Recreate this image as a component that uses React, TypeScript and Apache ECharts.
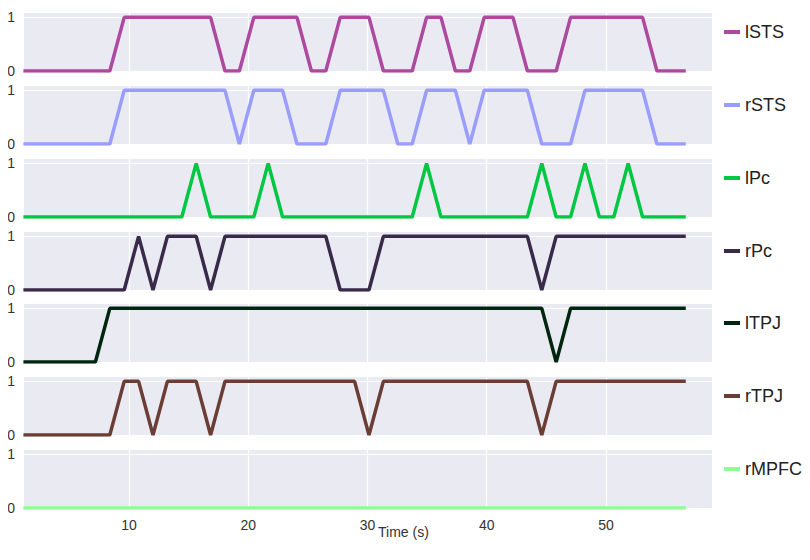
import React, { useEffect, useRef } from "react";
import * as echarts from "echarts";

const regionNames = ["lSTS", "rSTS", "lPc", "rPc", "lTPJ", "rTPJ", "rMPFC"];
const regionColors = ["#ad4aa0", "#9a9cff", "#00c843", "#3a2a4a", "#00260f", "#6b3e35", "#8cff94"];
const sampleStart = 1.145; // s, first sample
const sampleStep = 1.2075; // s, sampling interval
const nSamples = 47;
// indices of samples where each region is active (value 1); all others are 0
const lSTSOn = [7,8,9,10,11,12,13,16,17,18,19,22,23,24,28,29,32,33,34,38,39,40,41,42,43];
const rSTSOn = [7,8,9,10,11,12,13,14,16,17,18,22,23,24,25,28,29,30,32,33,34,35,39,40,41,42,43];
const lPcOn = [12,17,28,36,39,42];
const rPcOn = [8,10,11,12,14,15,16,17,18,19,20,21,25,26,27,28,29,30,31,32,33,34,35,37,38,39,40,41,42,43,44,45,46];
const lTPJOn = [6,7,8,9,10,11,12,13,14,15,16,17,18,19,20,21,22,23,24,25,26,27,28,29,30,31,32,33,34,35,36,38,39,40,41,42,43,44,45,46];
const rTPJOn = [7,8,10,11,12,14,15,16,17,18,19,20,21,22,23,25,26,27,28,29,30,31,32,33,34,35,37,38,39,40,41,42,43,44,45,46];
const rMPFCOn: number[] = [];
const activeSets = [lSTSOn, rSTSOn, lPcOn, rPcOn, lTPJOn, rTPJOn, rMPFCOn];
const xTicks = [10, 20, 30, 40, 50];
const xTitle = "Time (s)";
const FONT = "Liberation Sans";

export default function App() {
  const ref = useRef<HTMLDivElement>(null);
  useEffect(() => {
    const chart = echarts.init(ref.current!, undefined, { renderer: "svg" });
    const tops = [12, 85, 158, 231, 303, 376, 449];
    const h = 59;
    const grids: any[] = [], xAxes: any[] = [], yAxes: any[] = [], series: any[] = [], legends: any[] = [];
    regionNames.forEach((name, k) => {
      grids.push({ left: 24, right: 98, top: tops[k], height: h, show: true, backgroundColor: "#EAEAF2", borderWidth: 0 });
      const last = k === regionNames.length - 1;
      xAxes.push({
        type: "value", gridIndex: k, min: 1.195, max: 58.89,
        axisLine: { show: false }, axisTick: { show: false },
        axisLabel: { show: last, color: "#333", fontSize: 14, fontFamily: FONT, customValues: xTicks, margin: 10 },
        splitLine: { show: false },
      });
      yAxes.push({
        type: "value", gridIndex: k, min: 0, max: 1.1, interval: 1,
        axisLine: { show: false }, axisTick: { show: false },
        axisLabel: { color: "#333", fontSize: 14, fontFamily: FONT, margin: 9,
          formatter: (v: number) => (v === 0 || v === 1 ? String(v) : "") },
        splitLine: { show: true, lineStyle: { color: "#fff", width: 1.2 } },
      });
      const on = new Set(activeSets[k]);
      const data = Array.from({ length: nSamples }, (_, j) => [sampleStart + sampleStep * j, on.has(j) ? 1 : 0]);
      series.push({
        type: "line", name, xAxisIndex: k, yAxisIndex: k, data, showSymbol: false,
        lineStyle: { color: regionColors[k], width: 3.5 }, itemStyle: { color: regionColors[k] },
        clip: true,
        markLine: {
          silent: true, symbol: "none", label: { show: false }, z: 0,
          lineStyle: { color: "#fff", width: 1.2, type: "solid" },
          data: xTicks.map((x) => ({ xAxis: x })),
        },
      });
      legends.push({
        data: [name], left: 719, top: tops[k] + 6, icon: "rect", itemWidth: 16, itemHeight: 4, itemGap: 8,
        textStyle: { fontSize: 18, color: "#222", fontFamily: FONT },
      });
    });
    chart.setOption({
      animation: false,
      grid: grids, xAxis: xAxes, yAxis: yAxes, series, legend: legends,
      graphic: [{ type: "text", left: 378, top: 525, style: { text: xTitle, fontSize: 14, fill: "#333", fontFamily: FONT } }],
    });
    return () => chart.dispose();
  }, []);
  return <div ref={ref} style={{ width: 810, height: 560, margin: -8 }} />;
}
